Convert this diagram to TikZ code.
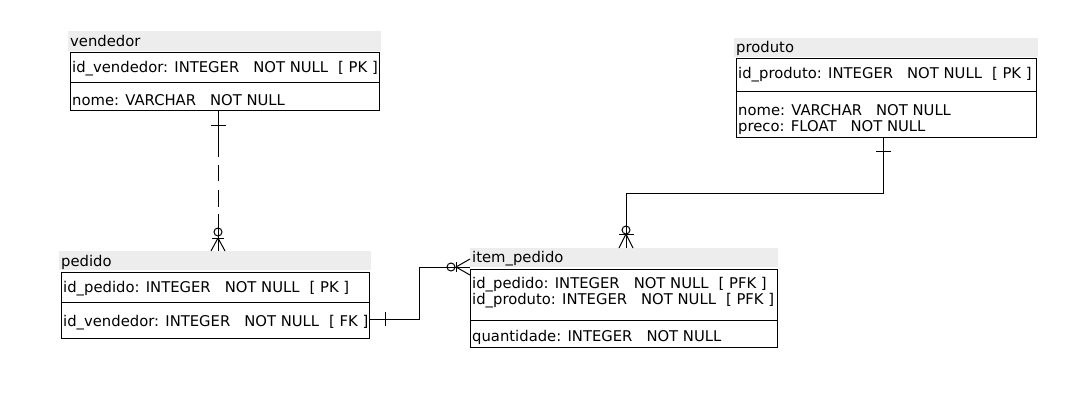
\documentclass[tikz,border=0pt]{standalone}
\usepackage{fontspec}
\setmainfont{DejaVu Sans}
\newcommand{\spA}{\hspace{14pt}}
\newcommand{\spB}{\hspace{10pt}}
\tikzset{
  tbl/.style={draw=black, line width=1pt, fill=white, inner sep=0pt, outer sep=0pt, anchor=north west},
  band/.style={fill=black!7, draw=none, inner sep=0pt, outer sep=0pt, anchor=north west},
  txt/.style={inner sep=0pt, anchor=base west, font=\fontsize{14.8}{16}\selectfont},
  divl/.style={line width=1pt},
  conn/.style={line width=1pt},
  crow/.style={line width=1pt},
}
\begin{document}
\begin{tikzpicture}[x=1pt,y=-1pt]
\useasboundingbox (0,0) rectangle (1092,407);
\fill[white] (0,0) rectangle (1092,407);

% ---------- vendedor ----------
\node[band, minimum width=313pt, minimum height=20pt] (vendband) at (68,31) {};
\node[txt] (vendtitle) at (70,46) {vendedor};
\node[tbl, minimum width=309pt, minimum height=58pt] (vend) at (70,52) {};
\draw[divl] (vend.west |- 0,82) -- (vend.east |- 0,82);
\node[txt] (vend1) at (72,72) {id\_vendedor: INTEGER\spA NOT NULL\spB [ PK ]};
\node[txt] (vend2) at (72,105) {nome: VARCHAR\spA NOT NULL};

% ---------- produto ----------
\node[band, minimum width=304pt, minimum height=19pt] (prodband) at (734,38) {};
\node[txt] (prodtitle) at (736,52) {produto};
\node[tbl, minimum width=300pt, minimum height=79pt] (prod) at (736,58) {};
\draw[divl] (prod.west |- 0,91) -- (prod.east |- 0,91);
\node[txt] (prod1) at (738,78) {id\_produto: INTEGER\spA NOT NULL\spB [ PK ]};
\node[txt] (prod2) at (738,115) {nome: VARCHAR\spA NOT NULL};
\node[txt] (prod3) at (738,131) {preco: FLOAT\spA NOT NULL};

% ---------- pedido ----------
\node[band, minimum width=312pt, minimum height=19pt] (pedband) at (59,251) {};
\node[txt] (pedtitle) at (61,266) {pedido};
\node[tbl, minimum width=308pt, minimum height=66pt] (ped) at (61,272) {};
\draw[divl] (ped.west |- 0,302) -- (ped.east |- 0,302);
\node[txt] (ped1) at (63,292) {id\_pedido: INTEGER\spA NOT NULL\spB [ PK ]};
\node[txt] (ped2) at (63,326) {id\_vendedor: INTEGER\spA NOT NULL\spB [ FK ]};

% ---------- item_pedido ----------
\node[band, minimum width=308pt, minimum height=19pt] (itemband) at (470,248) {};
\node[txt] (itemtitle) at (472,262) {item\_pedido};
\node[tbl, minimum width=307pt, minimum height=78pt] (item) at (470,269) {};
\draw[divl] (item.west |- 0,320) -- (item.east |- 0,320);
\node[txt] (item1) at (472,288) {id\_pedido: INTEGER\spA NOT NULL\spB [ PFK ]};
\node[txt] (item2) at (472,304) {id\_produto: INTEGER\spA NOT NULL\spB [ PFK ]};
\node[txt] (item3) at (472,341) {quantidade: INTEGER\spA NOT NULL};

% ---------- connector vendedor -> pedido ----------
\coordinate (c1a) at (vend.south -| 218,0);
\coordinate (c1b) at (pedband.north -| 218,0);
\draw[conn, dash pattern=on 47pt off 8pt on 16pt off 9pt on 17pt off 7pt on 80pt off 0pt] (c1a) -- (c1b);
\draw[crow] ([yshift=-15pt]c1a) ++(-7,0) -- ++(15,0);
\draw[crow] ([yshift=19pt]c1b) circle[radius=4pt];
\draw[crow] ([yshift=13pt]c1b) ++(-6,0) -- ++(12,0);
\draw[crow] ([yshift=13pt]c1b) -- ([xshift=-7pt]c1b);
\draw[crow] ([yshift=13pt]c1b) -- ([xshift=7pt]c1b);

% ---------- connector produto -> item_pedido ----------
\coordinate (c2a) at (prod.south -| 883,0);
\coordinate (c2m) at (883,193);
\coordinate (c2b) at (itemband.north -| 626,0);
\draw[conn] (c2a) -- (c2m) -| (c2b);
\draw[crow] ([yshift=-14pt]c2a) ++(-7,0) -- ++(15,0);
\draw[crow] ([yshift=18pt]c2b) circle[radius=4pt];
\draw[crow] ([yshift=14pt]c2b) ++(-7,0) -- ++(15,0);
\draw[crow] ([yshift=14pt]c2b) -- ([xshift=-7pt]c2b);
\draw[crow] ([yshift=14pt]c2b) -- ([xshift=7pt]c2b);

% ---------- connector pedido -> item_pedido ----------
\coordinate (c3a) at (ped.east |- 0,319);
\coordinate (c3m) at (419,319);
\coordinate (c3b) at (item.west |- 0,267);
\draw[conn] (c3a) -- (c3m) |- (c3b);
\draw[crow] ([xshift=16pt]c3a) ++(0,-7) -- ++(0,14);
\draw[crow] ([xshift=-19pt]c3b) circle[radius=4pt];
\draw[crow] ([xshift=-14pt]c3b) ++(0,-5) -- ++(0,10);
\draw[crow] ([xshift=-14pt]c3b) -- ([yshift=-8pt]c3b);
\draw[crow] ([xshift=-14pt]c3b) -- ([yshift=8pt]c3b);
\end{tikzpicture}
\end{document}
